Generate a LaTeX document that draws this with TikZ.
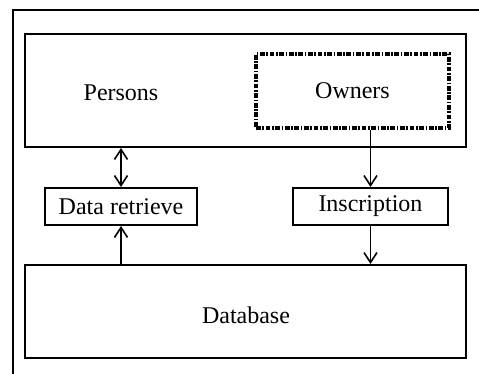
\documentclass[tikz,border=0pt]{standalone}
\usepackage{fontspec}
\setmainfont{Liberation Serif}
\usetikzlibrary{arrows.meta}

\tikzset{
  box/.style={draw, line width=1pt, inner sep=0pt, font=\fontsize{12}{14}\selectfont},
  ownerbox/.style={draw, line width=1.6pt, dash pattern=on 2.4pt off 0.8pt on 0.8pt off 0.8pt, inner sep=0pt, font=\fontsize{12}{14}\selectfont},
  flow/.style={line width=0.8pt, -{Straight Barb[length=5pt,width=6.5pt]}},
  flowboth/.style={line width=0.8pt, {Straight Barb[length=5pt,width=6.5pt]}-{Straight Barb[length=5pt,width=6.5pt]}}
}

\begin{document}
\begin{tikzpicture}[x=0.5pt,y=-0.5pt]
      % 1. page and outer frame
      \useasboundingbox (0,0) rectangle (479,374);
      \draw[line width=1pt] (13,374) -- (13,10) -- (479,10);

      % 2. boxes
      \node[box, minimum width=220.5pt, minimum height=56.5pt] (persons) at (245.5,90.5) {};
      \node[font=\fontsize{12}{14}\selectfont] (personslabel) at (121,93) {Persons};
      \node[ownerbox, minimum width=96.5pt, minimum height=37pt] (owners) at (352.5,91) {Owners};
      \node[box, minimum width=76pt, minimum height=18.5pt] (retrieve) at (121,206.5) {Data retrieve};
      \node[box, minimum width=77.5pt, minimum height=18.5pt] (inscription) at (370.5,206.5) {Inscription};
      \node[box, minimum width=220.5pt, minimum height=46.5pt] (database) at (245.5,311.5) {};
      \node[font=\fontsize{12}{14}\selectfont] (databaselabel) at (246,315) {Database};

      % 3. connectors
      \draw[flowboth] (retrieve.north |- persons.south) -- (retrieve.north);
      \draw[flow] (retrieve.south |- database.north) -- (retrieve.south);
      \draw[flow] (inscription.north |- owners.south) -- (inscription.north);
      \draw[flow] (inscription.south) -- (inscription.south |- database.north);
\end{tikzpicture}
\end{document}
